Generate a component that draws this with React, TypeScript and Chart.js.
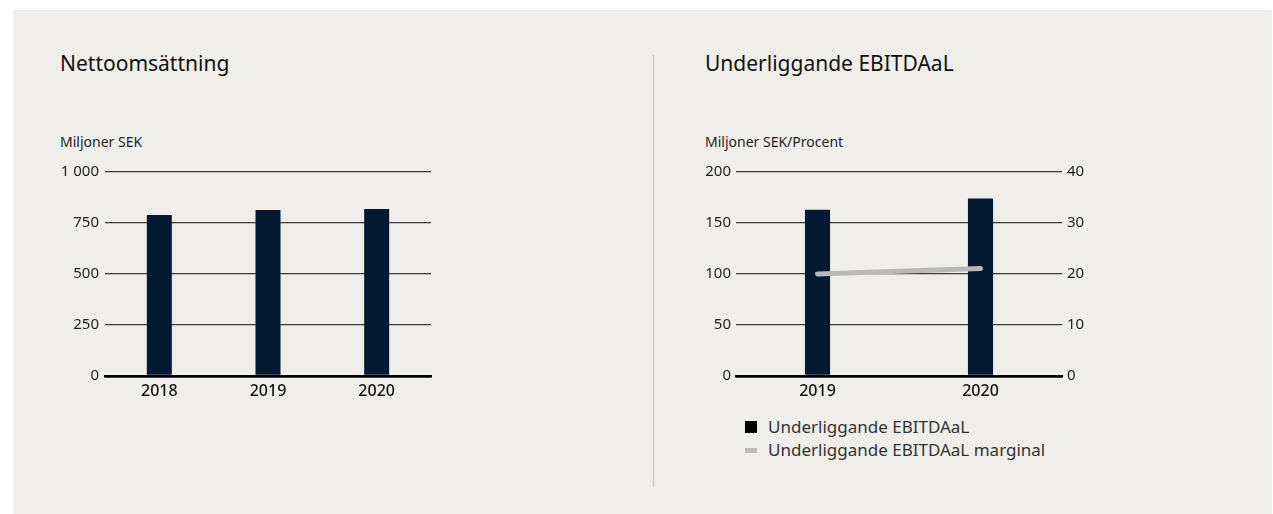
import React, { useEffect, useRef } from "react";
import { Chart, registerables } from "chart.js";

Chart.register(...registerables);

const FONT = "'Noto Sans', sans-serif";

const salesYears = ["2018", "2019", "2020"];
const salesValues = [789, 814, 819];
const salesTickLabels = ["0", "250", "500", "750", "1 000"];

const ebitdaYears = ["2019", "2020"];
const ebitdaValues = [163, 174];
const marginValues = [20.0, 21.1];
const ebitdaTickLabels = ["0", "50", "100", "150", "200"];
const marginTickLabels = ["0", "10", "20", "30", "40"];

const BAR_COLOR = "#011a31";
const GRID_COLOR = "#3a3a3a";
const LINE_COLOR = "#b9b9b9";

const gridColor = (ctx: any) => (ctx.tick && ctx.tick.value === 0 ? "#000" : GRID_COLOR);
const gridWidth = (ctx: any) => (ctx.tick && ctx.tick.value === 0 ? 2.5 : 1.2);

function SalesChart() {
  const ref = useRef<HTMLCanvasElement | null>(null);
  useEffect(() => {
    if (!ref.current) return;
    const chart = new Chart(ref.current, {
      type: "bar",
      data: {
        labels: salesYears,
        datasets: [
          {
            label: "Nettoomsättning",
            data: salesValues,
            backgroundColor: BAR_COLOR,
            barPercentage: 0.23,
            categoryPercentage: 1,
          },
        ],
      },
      options: {
        animation: false,
        responsive: false,
        layout: { padding: { top: 22, right: 19, bottom: 0, left: 0 } },
        plugins: { legend: { display: false }, tooltip: { enabled: false } },
        scales: {
          x: {
            grid: { display: false, drawTicks: false },
            border: { display: true, color: "#000", width: 2.5 },
            ticks: { color: "#111", font: { family: FONT, size: 16, weight: 500 }, padding: 6 },
            afterFit: (a: any) => { a.height = 34; },
          },
          y: {
            min: 0,
            max: 1000,
            ticks: {
              stepSize: 250,
              color: "#1e1e1e",
              font: { family: FONT, size: 15 },
              padding: 6,
              callback: (_v: any, i: number) => salesTickLabels[i],
            },
            grid: { color: gridColor, lineWidth: gridWidth, drawTicks: false },
            border: { display: false },
            afterFit: (a: any) => { a.width = 45; },
          },
        },
      },
    });
    return () => chart.destroy();
  }, []);
  return (
    <canvas
      ref={ref}
      width={390}
      height={260}
      style={{ position: "absolute", left: 60, top: 150, width: 390, height: 260 }}
    />
  );
}

function EbitdaChart() {
  const ref = useRef<HTMLCanvasElement | null>(null);
  useEffect(() => {
    if (!ref.current) return;
    const chart = new Chart(ref.current, {
      type: "bar",
      data: {
        labels: ebitdaYears,
        datasets: [
          {
            type: "line",
            label: "Underliggande EBITDAaL marginal",
            data: marginValues,
            yAxisID: "y1",
            borderColor: LINE_COLOR,
            backgroundColor: LINE_COLOR,
            borderWidth: 5,
            borderCapStyle: "round",
            pointRadius: 0,
            tension: 0,
            order: 0,
          } as any,
          {
            type: "bar",
            label: "Underliggande EBITDAaL",
            data: ebitdaValues,
            yAxisID: "y",
            backgroundColor: BAR_COLOR,
            barPercentage: 0.154,
            categoryPercentage: 1,
            order: 1,
          },
        ],
      },
      options: {
        animation: false,
        responsive: false,
        layout: { padding: { top: 22, right: 0, bottom: 0, left: 0 } },
        plugins: { legend: { display: false }, tooltip: { enabled: false } },
        scales: {
          x: {
            grid: { display: false, drawTicks: false },
            border: { display: true, color: "#000", width: 2.5 },
            ticks: { color: "#111", font: { family: FONT, size: 16, weight: 500 }, padding: 6 },
            afterFit: (a: any) => { a.height = 34; },
          },
          y: {
            position: "left",
            min: 0,
            max: 200,
            ticks: {
              stepSize: 50,
              color: "#1e1e1e",
              font: { family: FONT, size: 15 },
              padding: 5,
              callback: (_v: any, i: number) => ebitdaTickLabels[i],
            },
            grid: { color: gridColor, lineWidth: gridWidth, drawTicks: false },
            border: { display: false },
            afterFit: (a: any) => { a.width = 46; },
          },
          y1: {
            position: "right",
            min: 0,
            max: 40,
            ticks: {
              stepSize: 10,
              color: "#1e1e1e",
              font: { family: FONT, size: 15 },
              padding: 5,
              callback: (_v: any, i: number) => marginTickLabels[i],
            },
            grid: { display: false, drawTicks: false },
            border: { display: false },
            afterFit: (a: any) => { a.width = 48; },
          },
        },
      },
    });
    return () => chart.destroy();
  }, []);
  return (
    <canvas
      ref={ref}
      width={420}
      height={260}
      style={{ position: "absolute", left: 690, top: 150, width: 420, height: 260 }}
    />
  );
}

const titleStyle: React.CSSProperties = {
  position: "absolute",
  top: 53,
  fontFamily: FONT,
  fontSize: 21,
  lineHeight: "21px",
  color: "#111",
  whiteSpace: "nowrap",
};

const unitStyle: React.CSSProperties = {
  position: "absolute",
  top: 135,
  fontFamily: FONT,
  fontSize: 14,
  lineHeight: "14px",
  color: "#1e1e1e",
  whiteSpace: "nowrap",
};

const legendText: React.CSSProperties = {
  position: "absolute",
  left: 768,
  fontFamily: FONT,
  fontSize: 17,
  lineHeight: "17px",
  color: "#333",
  whiteSpace: "nowrap",
};

export default function App() {
  return (
    <div style={{ position: "absolute", left: 0, top: 0, width: 1273, height: 514, background: "#fff", overflow: "hidden" }}>
      <div style={{ position: "absolute", left: 13, top: 10, width: 1259, height: 504, background: "#efeeea" }} />
      <div style={{ ...titleStyle, left: 60 }}>Nettoomsättning</div>
      <div style={{ ...unitStyle, left: 60 }}>Miljoner SEK</div>
      <div style={{ ...titleStyle, left: 705 }}>Underliggande EBITDAaL</div>
      <div style={{ ...unitStyle, left: 705 }}>Miljoner SEK/Procent</div>
      <div style={{ position: "absolute", left: 653, top: 55, width: 1, height: 432, background: "#c4c4c4" }} />
      <SalesChart />
      <EbitdaChart />
      <div style={{ position: "absolute", left: 745, top: 421, width: 12, height: 12, background: "#000" }} />
      <div style={{ ...legendText, top: 418 }}>Underliggande EBITDAaL</div>
      <div style={{ position: "absolute", left: 745, top: 448, width: 12, height: 5, background: "#bbb" }} />
      <div style={{ ...legendText, top: 441 }}>Underliggande EBITDAaL marginal</div>
    </div>
  );
}
